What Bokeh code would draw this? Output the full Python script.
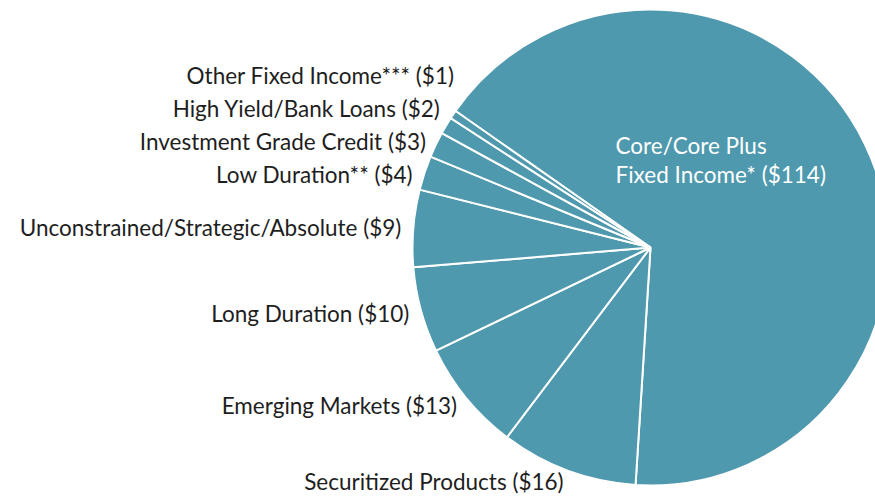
import math
from bokeh.plotting import figure
from bokeh.models import Range1d, ColumnDataSource
from bokeh.core.properties import value
from bokeh.embed import file_html
from bokeh.resources import INLINE

# ---- data ----
categories = [
    "Core/Core Plus Fixed Income*",
    "Securitized Products",
    "Emerging Markets",
    "Long Duration",
    "Unconstrained/Strategic/Absolute",
    "Low Duration**",
    "Investment Grade Credit",
    "High Yield/Bank Loans",
    "Other Fixed Income***",
]
amounts = [114, 16, 13, 10, 9, 4, 3, 2, 1]

W, H = 875, 502
CX, CY, R = 650, 255, 238        # pie centre / radius (1 data unit = 1 px)
START_DEG = 145                  # first slice starts here, slices run clockwise
LABEL_R = 250
FONT = "Lato"
FS = "22.5px"
MIN_GAP = 33

p = figure(width=W, height=H, output_backend="svg", toolbar_location=None,
           x_range=Range1d(0, W), y_range=Range1d(502 - H, 502),
           min_border=0)
p.axis.visible = False
p.grid.visible = False
p.outline_line_color = None
p.background_fill_color = "white"

total = sum(amounts)
starts, ends, mids = [], [], []
cum = 0
for a in amounts:
    s = START_DEG - (cum + a) / total * 360
    e = START_DEG - cum / total * 360
    starts.append(math.radians(s))
    ends.append(math.radians(e))
    mids.append(math.radians((s + e) / 2))
    cum += a

src = ColumnDataSource(dict(x=[CX] * len(amounts), y=[CY] * len(amounts),
                            start=starts, end=ends))
p.wedge(x="x", y="y", radius=R, start_angle="start", end_angle="end",
        direction="anticlock", fill_color="#4e99ad", line_color="white",
        line_width=2, source=src)

# outside labels (all but the first)
lx, ly, lt = [], [], []
for cat, amt, m in zip(categories[1:], amounts[1:], mids[1:]):
    lx.append(CX + math.cos(m) * LABEL_R)
    ly.append(CY + math.sin(m) * LABEL_R)
    lt.append(f"{cat} (${amt})")
# de-overlap for the small slices on the upper left
for i in range(1, len(ly)):
    if ly[i] - ly[i - 1] < MIN_GAP and ly[i] > CY:
        shift = ly[i - 1] + MIN_GAP - ly[i]
        ly[i] += shift
        lx[i] += shift * 0.3
# nudge the stacked upper cluster down slightly
for i in range(len(ly)):
    if ly[i] > CY + 60:
        ly[i] -= 5

p.text(x=lx, y=ly, text=lt, text_align="right", text_baseline="middle",
       text_font=value(FONT), text_font_size=FS, text_color="#1e1e1e")

# inside label for the large slice
p.text(x=[CX - 0.147 * R], y=[CY + 0.368 * R],
       text=["Core/Core Plus\nFixed Income* ($%d)" % amounts[0]],
       text_align="left", text_baseline="middle", text_line_height=1.05,
       text_font=value(FONT), text_font_size=FS, text_color="white")

open("out.html", "w").write(file_html(p, INLINE))
